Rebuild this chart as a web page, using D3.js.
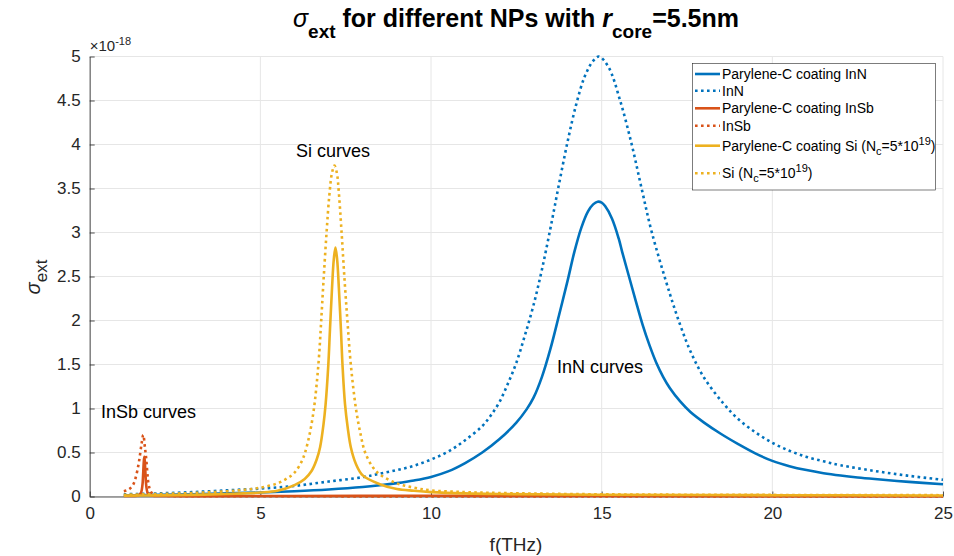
<!DOCTYPE html>
<html><head><meta charset="utf-8">
<script src="https://cdn.jsdelivr.net/npm/d3@7"></script>
<style>
body{margin:0;background:#fff;}
text{font-family:"Liberation Sans",Arial,Helvetica,sans-serif;}
</style></head>
<body><svg id="chart" width="954" height="556"></svg>
<script>
// ---- data (values x10^-18) ----
const xTicks = [0,5,10,15,20,25];
const yTicks = [0,0.5,1,1.5,2,2.5,3,3.5,4,4.5,5];
const yTickLabels = ["0","0.5","1","1.5","2","2.5","3","3.5","4","4.5","5"];

const inNCoatF = [1,2,3,4,5,6,7,8,8.5,9,9.5,10,10.5,11,11.5,12,12.5,12.8,13,13.25,13.5,13.75,14,14.2,14.4,14.6,14.75,14.88,15,15.1,15.3,15.5,15.6,15.8,16,16.2,16.4,16.6,16.8,17,17.3,17.6,18,18.5,19,19.5,20,20.5,21,21.5,22,22.5,23,24,25];
const inNCoatV = [0.012,0.018,0.025,0.035,0.045,0.06,0.08,0.108,0.128,0.152,0.182,0.222,0.285,0.38,0.5,0.65,0.84,0.99,1.12,1.36,1.68,2.06,2.45,2.78,3.05,3.24,3.32,3.35,3.34,3.3,3.16,2.93,2.78,2.5,2.22,1.95,1.72,1.52,1.36,1.23,1.08,0.96,0.84,0.71,0.595,0.49,0.405,0.345,0.3,0.265,0.238,0.216,0.198,0.166,0.14];

const inNF = [1,2,3,4,5,6,7,8,8.5,9,9.5,10,10.5,11,11.5,11.75,12,12.25,12.5,12.75,13,13.25,13.5,13.75,14,14.25,14.5,14.75,14.92,15.2,15.54,15.88,16.17,16.47,17,17.3,17.6,18,18.56,19,19.5,20,20.5,21,21.5,22,23,24,25];
const inNV = [0.025,0.035,0.05,0.07,0.09,0.12,0.17,0.22,0.26,0.3,0.35,0.42,0.51,0.64,0.8,0.92,1.07,1.28,1.52,1.83,2.17,2.58,3.05,3.55,4.03,4.45,4.77,4.95,5.0,4.88,4.5,4.0,3.5,3.0,2.3,1.95,1.65,1.35,1.06,0.88,0.73,0.61,0.52,0.45,0.4,0.355,0.29,0.235,0.19];

const inSbCoatF = [1,1.4,1.5,1.55,1.6,1.65,1.7,1.8,2,3,6,10,15,25];
const inSbCoatV = [0.005,0.01,0.04,0.15,0.45,0.15,0.04,0.012,0.006,0.004,0.006,0.008,0.005,0.003];

const inSbF = [1,1.18,1.33,1.45,1.52,1.57,1.62,1.65,1.72,1.82,2,3,25];
const inSbV = [0.06,0.09,0.19,0.41,0.6,0.7,0.55,0.45,0.15,0.04,0.01,0.003,0.0];

const siCoatF = [1,2,3,4,4.5,5,5.5,6,6.3,6.5,6.65,6.75,6.85,6.91,6.99,7.04,7.1,7.15,7.2,7.25,7.3,7.36,7.41,7.48,7.56,7.65,7.8,8,8.5,9,9.5,10,11,12,15,20,25];
const siCoatV = [0.01,0.013,0.018,0.028,0.035,0.045,0.065,0.13,0.2,0.29,0.42,0.56,0.82,1.04,1.49,1.9,2.37,2.69,2.83,2.69,2.37,1.9,1.47,1.05,0.78,0.56,0.37,0.24,0.14,0.085,0.065,0.05,0.035,0.028,0.02,0.015,0.012];

const siF = [1,2,3,4,4.5,5,5.5,5.8,6,6.2,6.31,6.45,6.57,6.65,6.72,6.78,6.85,6.94,7.02,7.1,7.17,7.24,7.3,7.38,7.46,7.55,7.65,7.8,7.93,8.07,8.3,8.5,9,9.5,10,11,12,15,20,25];
const siV = [0.02,0.028,0.04,0.06,0.075,0.1,0.15,0.21,0.27,0.39,0.5,0.72,1.0,1.28,1.6,1.98,2.45,3.0,3.42,3.68,3.76,3.68,3.45,3.0,2.5,2.0,1.5,1.0,0.72,0.5,0.33,0.25,0.15,0.1,0.07,0.05,0.04,0.025,0.018,0.015];

const seriesNames = ["Parylene-C coating InN","InN","Parylene-C coating InSb","InSb","Parylene-C coating Si","Si"];

// ---- layout ----
const svg = d3.select("#chart");
const L = 89.7, R = 943, T = 56.5, B = 496.5;
const x = d3.scaleLinear().domain([0,25]).range([L,R]);
const y = d3.scaleLinear().domain([0,5]).range([B,T]);
const blue="#0072BD", orange="#D95319", yellow="#EDB120";
const axisColor="#262626";

// grid
const g = svg.append("g");
g.selectAll(".gx").data(xTicks).join("line")
 .attr("x1",d=>x(d)).attr("x2",d=>x(d)).attr("y1",T).attr("y2",B)
 .attr("stroke","#e6e6e6").attr("stroke-width",1);
g.selectAll(".gy").data(yTicks).join("line")
 .attr("y1",d=>y(d)).attr("y2",d=>y(d)).attr("x1",L).attr("x2",R)
 .attr("stroke","#e6e6e6").attr("stroke-width",1);

// axes
const xAxis = d3.axisBottom(x).tickValues(xTicks).tickSizeInner(-5).tickSizeOuter(0).tickPadding(10).tickFormat(d3.format("d"));
const yAxis = d3.axisLeft(y).tickValues(yTicks).tickSizeInner(-5).tickSizeOuter(0).tickPadding(9).tickFormat((d,i)=>yTickLabels[i]);
const gx = svg.append("g").attr("transform",`translate(0,${B})`).call(xAxis);
const gy = svg.append("g").attr("transform",`translate(${L},0)`).call(yAxis);
[gx,gy].forEach(a=>{
  a.select(".domain").attr("stroke",axisColor).attr("stroke-width",0.8);
  a.selectAll(".tick line").attr("stroke",axisColor).attr("stroke-width",0.8);
  a.selectAll("text").attr("fill",axisColor).style("font-size","17px").style("font-family",'"Liberation Sans",Arial,sans-serif');
});

// lines
const series = [
  {f:inNCoatF,v:inNCoatV,c:blue,dot:false,smooth:true},
  {f:inNF,v:inNV,c:blue,dot:true,smooth:true},
  {f:inSbCoatF,v:inSbCoatV,c:orange,dot:false,smooth:false},
  {f:inSbF,v:inSbV,c:orange,dot:true,smooth:false},
  {f:siCoatF,v:siCoatV,c:yellow,dot:false,smooth:true},
  {f:siF,v:siV,c:yellow,dot:true,smooth:true}
];
const lineSmooth = d3.line().x(d=>x(d[0])).y(d=>y(d[1])).curve(d3.curveCatmullRom.alpha(0.5));
const lineMono = d3.line().x(d=>x(d[0])).y(d=>y(d[1])).curve(d3.curveMonotoneX);
series.forEach(s=>{
  svg.append("path").datum(s.f.map((f,i)=>[f,s.v[i]]))
   .attr("d",s.smooth?lineSmooth:lineMono).attr("fill","none").attr("stroke",s.c)
   .attr("stroke-width",2.6)
   .attr("stroke-dasharray",s.dot?"2.6,3.4":null);
});

// exponent
const ex = svg.append("text").attr("x",L).attr("y",51).attr("fill",axisColor).style("font-size","15px");
ex.append("tspan").text("×10");
ex.append("tspan").attr("dy",-6).style("font-size","11px").text("-18");

// title
const tt = svg.append("text").attr("x",516).attr("y",27).attr("text-anchor","middle")
 .attr("fill","#000").style("font-size","25px").style("font-weight","bold");
tt.append("tspan").style("font-style","italic").style("font-weight","normal").text("σ");
tt.append("tspan").attr("dy",11).style("font-size","19px").text("ext");
tt.append("tspan").attr("dy",-11).text(" for different NPs with ");
tt.append("tspan").style("font-style","italic").text("r");
tt.append("tspan").attr("dy",11).style("font-size","19px").text("core");
tt.append("tspan").attr("dy",-11).text("=5.5nm");

// axis labels
svg.append("text").attr("x",516).attr("y",551).attr("text-anchor","middle")
 .attr("fill",axisColor).style("font-size","19px").text("f(THz)");
const yl = svg.append("text").attr("transform","translate(40,277) rotate(-90)")
 .attr("text-anchor","middle").attr("fill",axisColor).style("font-size","20px");
yl.append("tspan").style("font-style","italic").text("σ");
yl.append("tspan").attr("dy",7).style("font-size","17px").text("ext");

// annotations
svg.append("text").attr("x",296).attr("y",157).style("font-size","18px").attr("fill","#000").text("Si curves");
svg.append("text").attr("x",557).attr("y",373).style("font-size","18px").attr("fill","#000").text("InN curves");
svg.append("text").attr("x",101).attr("y",418).style("font-size","18px").attr("fill","#000").text("InSb curves");

// legend
const lg = svg.append("g");
lg.append("rect").attr("x",692.5).attr("y",63.5).attr("width",243).attr("height",126.5)
 .attr("fill","#fff").attr("stroke","#262626").attr("stroke-width",0.6);
const legY = [74,90.7,108.3,125.7,145.7,173.3];
series.forEach((s,i)=>{
  lg.append("line").attr("x1",695).attr("x2",720).attr("y1",legY[i]).attr("y2",legY[i])
   .attr("stroke",s.c).attr("stroke-width",2.6).attr("stroke-dasharray",s.dot?"2.6,3.4":null);
  const t = lg.append("text").attr("x",722).attr("y",legY[i]+5).style("font-size","14px").attr("fill","#000");
  if(i<4){ t.text(seriesNames[i]); }
  else {
    t.append("tspan").text(seriesNames[i]+" (N");
    t.append("tspan").attr("dy",4).style("font-size","11px").text("c");
    t.append("tspan").attr("dy",-4).text("=5*10");
    t.append("tspan").attr("dy",-6).style("font-size","11px").text("19");
    t.append("tspan").attr("dy",6).text(")");
  }
});
</script></body></html>
